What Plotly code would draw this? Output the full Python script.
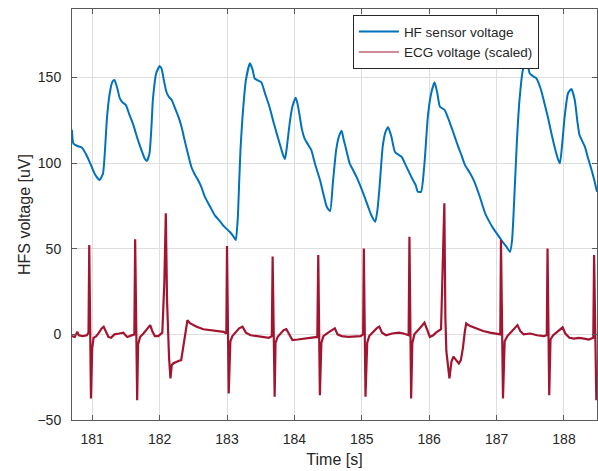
import plotly.graph_objects as go

# HF sensor voltage (time [s], voltage [uV])
hf_time = [180.70, 180.72, 180.78, 180.85, 180.91, 180.97, 181.04, 181.11, 181.16, 181.19,
           181.22, 181.26, 181.30, 181.33, 181.37, 181.41, 181.45, 181.50, 181.55, 181.61,
           181.67, 181.73, 181.78, 181.81, 181.85, 181.88, 181.90, 181.95, 182.00, 182.03,
           182.06, 182.10, 182.14, 182.18, 182.23, 182.28, 182.33, 182.37, 182.42, 182.47,
           182.52, 182.57, 182.62, 182.67, 182.75, 182.82, 182.90, 182.97, 183.04, 183.09,
           183.13, 183.16, 183.18, 183.20, 183.23, 183.28, 183.34, 183.38, 183.41, 183.46,
           183.51, 183.57, 183.63, 183.70, 183.78, 183.83, 183.86, 183.89, 183.93, 183.97,
           184.02, 184.05, 184.08, 184.11, 184.15, 184.20, 184.25, 184.31, 184.38, 184.43,
           184.48, 184.53, 184.57, 184.62, 184.66, 184.70, 184.73, 184.77, 184.82, 184.87,
           184.92, 184.98, 185.04, 185.09, 185.14, 185.20, 185.23, 185.26, 185.31, 185.35,
           185.39, 185.42, 185.44, 185.49, 185.54, 185.59, 185.65, 185.71, 185.76, 185.80,
           185.83, 185.88, 185.93, 185.98, 186.03, 186.08, 186.12, 186.16, 186.23, 186.31,
           186.37, 186.43, 186.48, 186.53, 186.60, 186.66, 186.75, 186.83, 186.89, 186.95,
           187.01, 187.07, 187.14, 187.20, 187.23, 187.25, 187.30, 187.34, 187.39, 187.44,
           187.47, 187.49, 187.55, 187.59, 187.66, 187.71, 187.76, 187.81, 187.86, 187.91,
           187.94, 187.98, 188.01, 188.06, 188.11, 188.16, 188.20, 188.23, 188.27, 188.31,
           188.36, 188.41, 188.45, 188.49]
hf_volt = [119.5, 111.5, 110.0, 109.0, 105.0, 99.9, 93.5, 90.1, 94.0, 108.0,
           127.0, 140.8, 147.5, 148.5, 144.0, 137.8, 135.5, 133.9, 128.5, 122.3,
           114.5, 107.6, 102.5, 101.2, 105.7, 122.0, 136.9, 152.5, 156.7, 155.0,
           149.0, 141.7, 138.5, 136.9, 132.0, 127.0, 120.5, 113.5, 105.5, 97.9,
           93.5, 90.1, 86.0, 80.4, 74.5, 69.5, 65.8, 62.5, 59.9, 57.5,
           55.1, 68.0, 88.2, 108.0, 127.0, 148.5, 158.3, 154.5, 149.5, 148.3,
           147.2, 140.0, 132.9, 122.5, 111.6, 105.0, 102.4, 110.0, 123.2, 133.0,
           138.2, 134.0, 127.1, 120.0, 114.5, 111.0, 107.7, 99.0, 90.1, 82.0,
           74.5, 72.0, 88.2, 107.7, 115.5, 118.9, 114.0, 107.7, 99.9, 96.0,
           92.1, 86.5, 80.4, 75.0, 69.7, 65.8, 72.0, 84.3, 109.6, 118.0,
           120.9, 118.0, 115.4, 106.7, 105.0, 103.7, 99.0, 94.0, 90.0, 87.2,
           83.3, 83.3, 99.9, 127.1, 140.8, 147.2, 141.0, 132.9, 131.0, 123.2,
           116.5, 109.6, 104.5, 99.0, 94.5, 90.1, 80.5, 70.7, 66.0, 61.9,
           58.5, 55.1, 51.5, 48.2, 55.0, 68.7, 111.6, 136.9, 154.4, 159.2,
           156.0, 152.5, 150.5, 149.5, 142.7, 135.0, 127.1, 118.0, 109.6, 102.5,
           99.9, 114.0, 127.1, 140.8, 143.3, 136.9, 124.0, 116.4, 113.0, 109.6,
           102.5, 96.0, 90.0, 83.3]

# ECG voltage (scaled)
ecg_time = [180.70, 180.74, 180.78, 180.80, 180.86, 180.92, 180.945, 180.956, 180.981, 181.00,
            181.02, 181.06, 181.10, 181.14, 181.17, 181.20, 181.24, 181.28, 181.33, 181.40,
            181.46, 181.52, 181.58, 181.625, 181.637, 181.667, 181.68, 181.71, 181.76, 181.81,
            181.86, 181.89, 181.93, 181.98, 182.04, 182.07, 182.092, 182.11, 182.126, 182.14,
            182.161, 182.18, 182.20, 182.24, 182.28, 182.32, 182.36, 182.39, 182.413, 182.45,
            182.55, 182.65, 182.75, 182.85, 182.95, 182.99, 183.00, 183.025, 183.05, 183.08,
            183.13, 183.18, 183.23, 183.28, 183.35, 183.45, 183.55, 183.62, 183.665, 183.677,
            183.707, 183.72, 183.75, 183.80, 183.84, 183.88, 183.92, 183.97, 184.05, 184.15,
            184.25, 184.34, 184.354, 184.378, 184.40, 184.43, 184.50, 184.56, 184.60, 184.64,
            184.70, 184.80, 184.90, 184.98, 185.02, 185.03, 185.055, 185.08, 185.11, 185.17,
            185.22, 185.26, 185.30, 185.36, 185.45, 185.55, 185.62, 185.695, 185.707, 185.732,
            185.75, 185.78, 185.83, 185.88, 185.93, 185.97, 186.01, 186.06, 186.10, 186.176,
            186.20, 186.225, 186.24, 186.255, 186.27, 186.30, 186.33, 186.36, 186.40, 186.44,
            186.47, 186.50, 186.53, 186.55, 186.60, 186.70, 186.80, 186.90, 186.98, 187.055,
            187.065, 187.095, 187.12, 187.16, 187.22, 187.27, 187.31, 187.35, 187.40, 187.50,
            187.60, 187.70, 187.745, 187.756, 187.781, 187.80, 187.84, 187.90, 187.94, 187.98,
            188.02, 188.08, 188.15, 188.22, 188.30, 188.37, 188.435, 188.447, 188.48, 188.50]
ecg_volt = [-1.0, -1.5, 1.5, -0.5, -1.0, -0.5, 1.0, 52.2, -37.4, -8.0,
            -2.0, -1.0, 1.0, 3.5, 4.5, 1.5, -1.5, -2.0, 0.0, 0.5,
            1.0, -1.5, -0.5, 0.0, 55.5, -38.4, -6.0, -1.5, 0.5, 3.0,
            5.4, 2.0, -1.0, -1.0, 1.0, 30.0, 70.7, 20.0, -6.0, -13.6,
            -25.7, -18.0, -17.0, -16.0, -15.5, -15.0, -5.0, 5.0, 8.3, 6.5,
            4.5, 3.0, 2.5, 2.0, 1.5, 0.5, 51.6, -34.5, -4.0, -1.0,
            1.0, 3.5, 4.5, 1.0, -0.5, -1.0, -1.5, -2.0, -1.0, 45.4,
            -36.4, -5.0, -1.5, 0.5, 2.5, 3.1, 0.0, -3.3, -3.0, -2.5,
            -2.0, -1.5, 46.3, -35.5, -5.0, -1.0, 1.0, 2.5, 3.5, 0.0,
            -1.0, -1.5, -1.0, -1.0, 0.0, 50.2, -36.4, -5.0, -1.0, 1.5,
            3.5, 4.5, 1.0, -0.5, 0.5, 1.0, 0.5, -0.5, 57.0, -37.4,
            -5.0, 0.0, 2.0, 4.5, 6.8, 2.0, -1.5, -0.5, 1.0, 3.0,
            35.0, 76.5, 10.0, -10.0, -15.0, -25.7, -16.0, -13.0, -15.0, -17.0,
            -15.0, -8.0, 2.0, 6.4, 5.0, 3.5, 2.0, 1.0, 0.5, 0.0,
            55.1, -37.4, -4.0, -1.0, 1.5, 4.0, 5.4, 2.0, 0.0, 0.5,
            -0.5, -1.0, -0.5, 50.2, -35.5, -3.0, -0.5, 1.5, 3.0, 4.1,
            0.5, -2.0, -2.5, -2.0, -2.5, -3.0, -2.0, 46.3, -38.4, -30.0]

x_ticks = [181, 182, 183, 184, 185, 186, 187, 188]
y_ticks = [-50, 0, 50, 100, 150]

FONT = "Arial, Liberation Sans, sans-serif"
TXT = "#262626"
BLUE = "#0072BD"
RED = "#A2142F"

fig = go.Figure()
fig.add_trace(go.Scatter(x=hf_time, y=hf_volt, mode="lines", name="HF sensor voltage",
                         line=dict(color=BLUE, width=2, shape="spline", smoothing=0.5)))
fig.add_trace(go.Scatter(x=ecg_time, y=ecg_volt, mode="lines", name="ECG voltage (scaled)",
                         showlegend=False, line=dict(color=RED, width=2.2)))
# legend entry for the ECG series, drawn with the thin line style of the key
fig.add_trace(go.Scatter(x=[None], y=[None], mode="lines", name="ECG voltage (scaled)",
                         line=dict(color=RED, width=1)))

axis_common = dict(showline=True, linecolor="#5a5a5a", linewidth=1, mirror="ticks",
                   ticks="inside", ticklen=5, tickcolor="#5a5a5a",
                   showgrid=True, gridcolor="#dedede", gridwidth=1, zeroline=False,
                   tickfont=dict(family=FONT, size=14, color=TXT))

fig.update_xaxes(range=[180.7, 188.49], tickvals=x_ticks, ticklabelstandoff=6,
                 title=dict(text="Time [s]", font=dict(family=FONT, size=16, color=TXT), standoff=8),
                 **axis_common)
fig.update_yaxes(range=[-50, 190], tickvals=y_ticks, ticklabelstandoff=7,
                 title=dict(text="HFS voltage [uV]", font=dict(family=FONT, size=16, color=TXT), standoff=2),
                 **axis_common)

fig.update_layout(
    width=598, height=471,
    margin=dict(l=72, r=1, t=9, b=51, autoexpand=False),
    plot_bgcolor="white", paper_bgcolor="white",
    showlegend=True,
    legend=dict(x=0.535, y=0.985, xanchor="left", yanchor="top",
                bgcolor="white", bordercolor="#262626", borderwidth=1,
                font=dict(family=FONT, size=13.5, color=TXT),
                tracegroupgap=0, itemwidth=40),
)

fig.write_html("out.html")
